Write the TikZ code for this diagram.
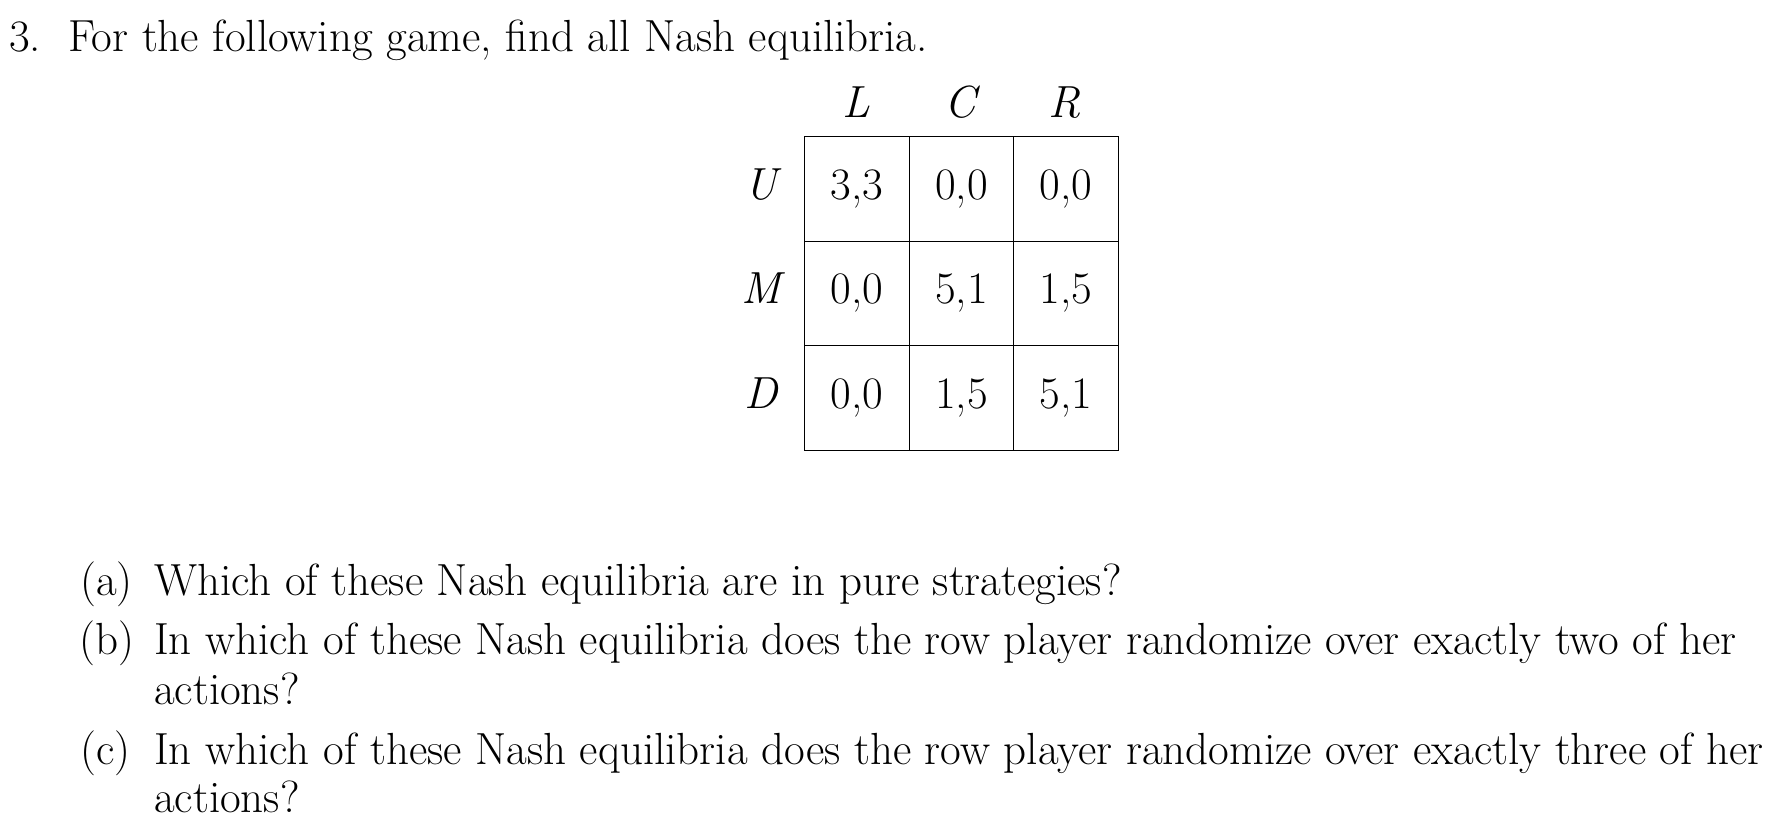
\documentclass[tikz,border=0pt]{standalone}
\begin{document}
\begin{tikzpicture}[x=1pt,y=-1pt,
  txt/.style={anchor=base west,inner sep=0pt,font=\fontsize{45}{54}\selectfont},
  lab/.style={anchor=base,inner sep=0pt,font=\fontsize{45}{54}\selectfont\itshape},
  cell/.style={draw,line width=1.3pt,minimum size=104.5pt,inner sep=0pt,anchor=north west,font=\fontsize{45}{54}\selectfont}]
\useasboundingbox (0,0) rectangle (1785,827);
\node[txt] (title) at (9,51) {3.\ \ For the following game, find all Nash equilibria.};
\node[lab] (cL) at (856,117) {L};
\node[lab] (cC) at (960,117) {C};
\node[lab] (cR) at (1065,117) {R};
\node[cell] (u1) at (804,136) {3,3};
\node[cell] (u2) at (908.5,136) {0,0};
\node[cell] (u3) at (1013,136) {0,0};
\node[cell] (m1) at (804,240.5) {0,0};
\node[cell] (m2) at (908.5,240.5) {5,1};
\node[cell] (m3) at (1013,240.5) {1,5};
\node[cell] (d1) at (804,345) {0,0};
\node[cell] (d2) at (908.5,345) {1,5};
\node[cell] (d3) at (1013,345) {5,1};
\node[lab] (rU) at (761,199) {U};
\node[lab] (rM) at (761,303) {M};
\node[lab] (rD) at (761,408) {D};
\node[txt] (pa) at (80,595) {(a)};
\node[txt] (ta) at (154,595) {Which of these Nash equilibria are in pure strategies?};
\node[txt] (pb) at (79,654) {(b)};
\node[txt] (tb) at (154,654) {In which of these Nash equilibria does the row player randomize over exactly two of her};
\node[txt] (tb2) at (154,704) {actions?};
\node[txt] (pc) at (80,764) {(c)};
\node[txt] (tc) at (154,764) {In which of these Nash equilibria does the row player randomize over exactly three of her};
\node[txt] (tc2) at (154,812) {actions?};
\end{tikzpicture}
\end{document}
